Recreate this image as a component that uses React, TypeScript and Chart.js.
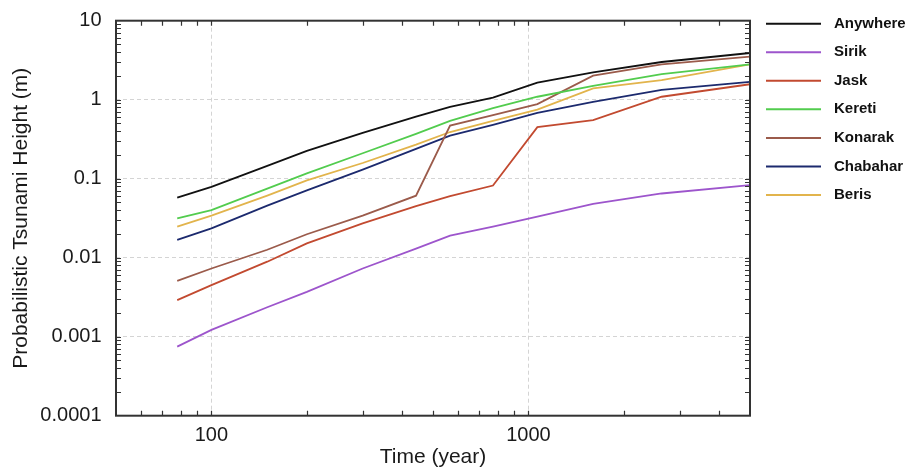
import React, { useEffect, useRef } from "react";
import { Chart, registerables } from "chart.js";

Chart.register(...registerables);

const years = [78, 100, 150, 200, 300, 442, 566, 773, 1067, 1600, 2632, 5000];

const seriesNames = ["Anywhere", "Sirik", "Jask", "Kereti", "Konarak", "Chabahar", "Beris"];
const seriesColors = ["#111111", "#9d55cc", "#c24a30", "#52cc4e", "#9b5b4b", "#1c2a6e", "#e2b44c"];

const anywhere = [0.0575, 0.079, 0.145, 0.225, 0.38, 0.61, 0.81, 1.06, 1.64, 2.22, 3.0, 3.9];
const sirik = [0.00075, 0.00122, 0.00236, 0.0037, 0.0073, 0.013, 0.019, 0.0247, 0.033, 0.048, 0.065, 0.083];
const jask = [0.0029, 0.0045, 0.0089, 0.0152, 0.0272, 0.045, 0.06, 0.082, 0.45, 0.55, 1.09, 1.57];
const kereti = [0.0315, 0.04, 0.075, 0.117, 0.21, 0.37, 0.54, 0.78, 1.09, 1.5, 2.11, 2.8];
const konarak = [0.0051, 0.0073, 0.0126, 0.0198, 0.034, 0.061, 0.47, 0.64, 0.88, 2.02, 2.8, 3.5];
const chabahar = [0.0168, 0.0235, 0.0457, 0.071, 0.13, 0.238, 0.35, 0.48, 0.68, 0.94, 1.33, 1.68];
const beris = [0.0247, 0.034, 0.061, 0.095, 0.158, 0.27, 0.39, 0.54, 0.75, 1.39, 1.77, 2.8];

const seriesValues = [anywhere, sirik, jask, kereti, konarak, chabahar, beris];

const xTickValues = [100, 1000];
const xTickLabels = ["100", "1000"];
const yTickValues = [0.0001, 0.001, 0.01, 0.1, 1, 10];
const yTickLabels = ["0.0001", "0.001", "0.01", "0.1", "1", "10"];

const xMin = 50;
const xMax = 5000;
const yMin = 0.0001;
const yMax = 10;

const FONT = "'Liberation Sans', Arial, Helvetica, sans-serif";

function minorValues(min: number, max: number): number[] {
  const out: number[] = [];
  for (let e = Math.floor(Math.log10(min)); e <= Math.ceil(Math.log10(max)); e++) {
    for (let m = 1; m <= 9; m++) {
      const v = m * Math.pow(10, e);
      if (v > min * 1.0001 && v < max * 0.9999) out.push(v);
    }
  }
  return out;
}

const framePlugin = {
  id: "frameTicks",
  afterDatasetsDraw(chart: any) {
    const { ctx, chartArea } = chart;
    const xs = chart.scales.x;
    const ys = chart.scales.y;
    const { left, right, top, bottom } = chartArea;
    ctx.save();
    ctx.strokeStyle = "#333333";
    ctx.lineWidth = 1.2;
    const tl = 5;
    ctx.beginPath();
    minorValues(xMin, xMax).forEach((v) => {
      const px = Math.round(xs.getPixelForValue(v)) + 0.5;
      ctx.moveTo(px, bottom);
      ctx.lineTo(px, bottom - tl);
      ctx.moveTo(px, top);
      ctx.lineTo(px, top + tl);
    });
    minorValues(yMin, yMax).forEach((v) => {
      const py = Math.round(ys.getPixelForValue(v)) + 0.5;
      ctx.moveTo(left, py);
      ctx.lineTo(left + tl, py);
      ctx.moveTo(right, py);
      ctx.lineTo(right - tl, py);
    });
    ctx.stroke();
    ctx.lineWidth = 2;
    ctx.strokeStyle = "#333333";
    ctx.strokeRect(left, top, right - left, bottom - top);
    ctx.restore();
  },
  afterDraw(chart: any) {
    const { ctx, chartArea } = chart;
    const x0 = chartArea.right + 16;
    const lineLen = 55;
    const y0 = chartArea.top + 3;
    const step = 28.55;
    ctx.save();
    chart.data.datasets.forEach((ds: any, i: number) => {
      const y = y0 + i * step;
      ctx.strokeStyle = ds.borderColor;
      ctx.lineWidth = 2;
      ctx.beginPath();
      ctx.moveTo(x0, y);
      ctx.lineTo(x0 + lineLen, y);
      ctx.stroke();
      ctx.fillStyle = "#111111";
      ctx.font = `bold 15px ${FONT}`;
      ctx.textBaseline = "middle";
      ctx.textAlign = "left";
      ctx.fillText(ds.label, x0 + lineLen + 13, y);
    });
    ctx.restore();
  },
};

export default function App() {
  const ref = useRef<HTMLCanvasElement | null>(null);

  useEffect(() => {
    if (!ref.current) return;
    const datasets = seriesNames.map((name, i) => ({
      label: name,
      data: years.map((x, j) => ({ x, y: seriesValues[i][j] })),
      borderColor: seriesColors[i],
      backgroundColor: seriesColors[i],
      borderWidth: 1.8,
      pointRadius: 0,
      tension: 0,
      fill: false,
    }));

    const chart = new Chart(ref.current, {
      type: "line",
      data: { datasets },
      options: {
        animation: false,
        responsive: false,
        devicePixelRatio: 1,
        layout: { padding: { left: 0, right: 156, top: 20.7, bottom: 0 } },
        plugins: {
          legend: { display: false },
          tooltip: { enabled: false },
        },
        scales: {
          x: {
            type: "logarithmic",
            min: xMin,
            max: xMax,
            afterBuildTicks: (scale: any) => {
              scale.ticks = xTickValues.map((v) => ({ value: v }));
            },
            afterFit: (scale: any) => {
              scale.height = 55.3;
              scale.paddingLeft = 0;
              scale.paddingRight = 0;
            },
            ticks: {
              autoSkip: false,
              maxRotation: 0,
              padding: 8,
              color: "#1a1a1a",
              font: { family: FONT, size: 20 },
              callback: (v: any) => {
                const idx = xTickValues.indexOf(Number(v));
                return idx >= 0 ? xTickLabels[idx] : "";
              },
            },
            grid: { color: "#d4d4d4", lineWidth: 1, drawTicks: false },
            border: { display: false, dash: [4, 3] },
            title: {
              display: true,
              text: "Time (year)",
              color: "#1a1a1a",
              font: { family: FONT, size: 21 },
              padding: { top: 0, bottom: 0.7 },
            },
          },
          y: {
            type: "logarithmic",
            min: yMin,
            max: yMax,
            afterBuildTicks: (scale: any) => {
              scale.ticks = yTickValues.map((v) => ({ value: v }));
            },
            afterFit: (scale: any) => {
              scale.width = 116;
              scale.paddingTop = 0;
              scale.paddingBottom = 0;
            },
            ticks: {
              autoSkip: false,
              padding: 14.5,
              color: "#1a1a1a",
              font: { family: FONT, size: 20 },
              callback: (v: any) => {
                const idx = yTickValues.findIndex((t) => Math.abs(t - Number(v)) / t < 1e-6);
                return idx >= 0 ? yTickLabels[idx] : "";
              },
            },
            grid: { color: "#d4d4d4", lineWidth: 1, drawTicks: false },
            border: { display: false, dash: [4, 3] },
            title: {
              display: true,
              text: "Probabilistic Tsunami Height (m)",
              color: "#1a1a1a",
              font: { family: FONT, size: 21 },
              padding: { top: 8.4, bottom: 0 },
            },
          },
        },
      },
      plugins: [framePlugin],
    });
    return () => chart.destroy();
  }, []);

  return (
    <div style={{ position: "fixed", left: 0, top: 0, width: 906, height: 471, background: "#ffffff" }}>
      <canvas ref={ref} width={906} height={471} style={{ width: 906, height: 471, display: "block" }} />
    </div>
  );
}
